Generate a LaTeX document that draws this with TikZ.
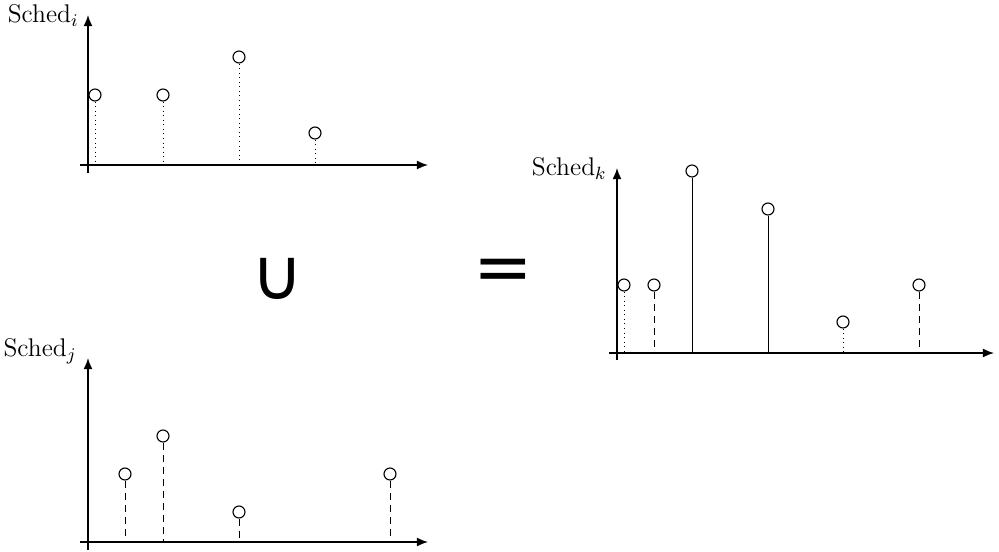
\documentclass[tikz,border=0pt]{standalone}
\usepackage{fontspec}
\newfontfamily\symfont{DejaVu Sans}
\usetikzlibrary{arrows.meta}
\begin{document}
\begin{tikzpicture}[x=0.45pt,y=-0.45pt,
  axis/.style={line width=0.6pt,-{Latex[length=5pt,width=4pt]}},
  ev/.style={circle,draw,line width=0.5pt,fill=white,minimum size=5.4pt,inner sep=0pt},
  stemdot/.style={line width=0.45pt,dash pattern=on 0.45pt off 1.6pt},
  stemdash/.style={line width=0.45pt,dash pattern=on 3.2pt off 2.2pt},
  stemsolid/.style={line width=0.45pt},
  lab/.style={anchor=base east,inner sep=0pt,font=\fontsize{11.5}{13}\selectfont}]
\useasboundingbox (0,0) rectangle (999,552);
% ---- chart i ----
\coordinate (iy0) at (88,173); \coordinate (iy1) at (88,15);
\coordinate (ix0) at (80,165); \coordinate (ix1) at (428,165);
\draw[axis] (iy0) -- (iy1);
\draw[axis] (ix0) -- (ix1);
\node[lab] (li) at (79,23) {Sched$_i$};
\foreach \n/\x/\y in {1/95/95,2/163/95,3/239/57,4/315/133}{
  \node[ev] (i\n) at (\x,\y) {};
  \coordinate (i\n b) at (\x,165);
  \draw[stemdot] (i\n.south) -- (i\n b);
}
% ---- chart j ----
\coordinate (jy0) at (88,550); \coordinate (jy1) at (88,358);
\coordinate (jx0) at (80,542); \coordinate (jx1) at (428,542);
\draw[axis] (jy0) -- (jy1);
\draw[axis] (jx0) -- (jx1);
\node[lab] (lj) at (77,356) {Sched$_j$};
\foreach \n/\x/\y in {1/125/474,2/163/436,3/239/512,4/390/474}{
  \node[ev] (j\n) at (\x,\y) {};
  \coordinate (j\n b) at (\x,542);
  \draw[stemdash] (j\n.south) -- (j\n b);
}
% ---- chart k ----
\coordinate (ky0) at (617,360); \coordinate (ky1) at (617,168);
\coordinate (kx0) at (609,353); \coordinate (kx1) at (994,353);
\draw[axis] (ky0) -- (ky1);
\draw[axis] (kx0) -- (kx1);
\node[lab] (lk) at (607,175) {Sched$_k$};
\foreach \n/\x/\y/\s in {1/624/285/stemdot,2/654/285/stemdash,3/692/171/stemsolid,4/768/209/stemsolid,5/843/322/stemdot,6/919/285/stemdash}{
  \node[ev] (k\n) at (\x,\y) {};
  \coordinate (k\n b) at (\x,353);
  \draw[\s] (k\n.south) -- (k\n b);
}
% ---- operators ----
\node[inner sep=0pt,font=\symfont\fontsize{32}{32}\selectfont] (cup) at (277.5,278.5) {∪};
\node[inner sep=0pt,font=\symfont\fontsize{32}{32}\selectfont] (eq) at (503.5,275.5) {=};
\end{tikzpicture}
\end{document}
